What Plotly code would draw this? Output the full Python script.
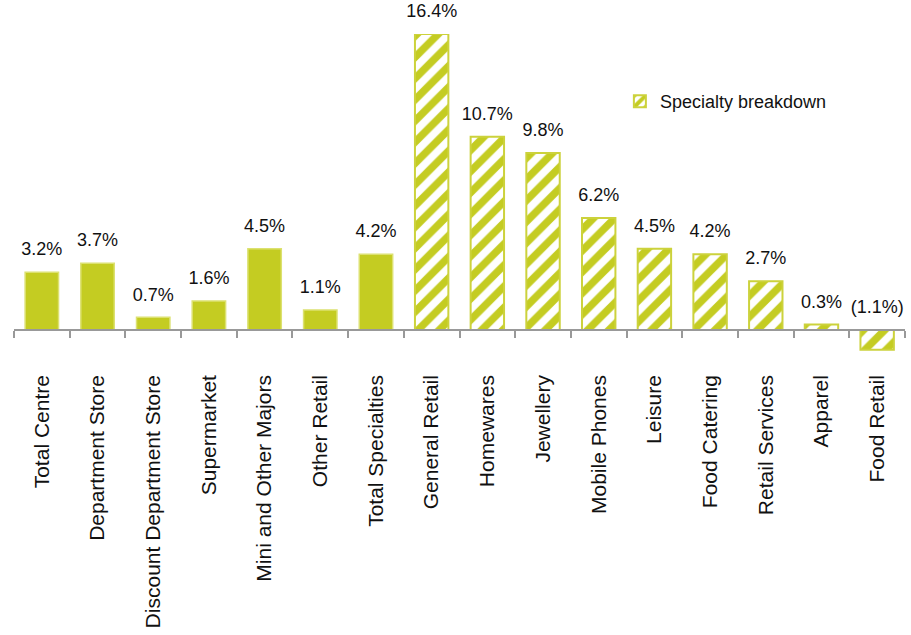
import plotly.graph_objects as go

# ---- data ----
categories = ["Total Centre", "Department Store", "Discount Department Store",
              "Supermarket", "Mini and Other Majors", "Other Retail",
              "Total Specialties", "General Retail", "Homewares", "Jewellery",
              "Mobile Phones", "Leisure", "Food Catering", "Retail Services",
              "Apparel", "Food Retail"]
values = [3.2, 3.7, 0.7, 1.6, 4.5, 1.1, 4.2, 16.4, 10.7, 9.8, 6.2, 4.5, 4.2,
          2.7, 0.3, -1.1]
n_solid = 7  # first categories are solid; the rest are the specialty breakdown
legend_name = "Specialty breakdown"


def fmt(v):
    return f"({abs(v):.1f}%)" if v < 0 else f"{v:.1f}%"


labels = [fmt(v) for v in values]

GREEN = "#c4cc22"
FONT = "Liberation Sans, Arial, sans-serif"

ymin, ymax = -1.5, 16.4

fig = go.Figure()
fig.add_trace(go.Bar(
    x=categories[:n_solid], y=values[:n_solid],
    marker=dict(color=GREEN, line=dict(color="#dce170", width=1.5)),
    showlegend=False, hoverinfo="x+y",
))
fig.add_trace(go.Bar(
    x=categories[n_solid:], y=values[n_solid:], name=legend_name,
    marker=dict(color="white",
                line=dict(color="#ccd23c", width=2),
                pattern=dict(shape="/", fgcolor=GREEN, bgcolor="white",
                             size=15, solidity=0.5, fgopacity=1,
                             fillmode="replace")),
    showlegend=True,
))
fig.add_trace(go.Scatter(
    x=categories, y=[max(v, 0) for v in values], text=labels,
    mode="markers+text", textposition="top center",
    marker=dict(size=18, color="rgba(0,0,0,0)"),
    textfont=dict(family=FONT, size=18, color="#111111"),
    showlegend=False, hoverinfo="skip", cliponaxis=False,
))

fig.update_layout(
    width=911, height=635,
    margin=dict(l=14, r=6, t=34, b=278, autoexpand=False),
    plot_bgcolor="white", paper_bgcolor="white",
    bargap=0.4, barmode="overlay",
    font=dict(family=FONT, size=18, color="#111111"),
    legend=dict(x=0.68, y=0.848, xanchor="left", yanchor="top",
                font=dict(family=FONT, size=18, color="#111111"),
                bgcolor="rgba(0,0,0,0)"),
)
fig.update_xaxes(
    type="category", categoryorder="array", categoryarray=categories,
    range=[-0.5, len(categories) - 0.5], autorange=False,
    anchor="free", position=(0 - ymin) / (ymax - ymin), automargin=False,
    showline=True, linecolor="#999999", linewidth=1.5,
    ticks="outside", tickson="boundaries", ticklen=7, tickcolor="#999999",
    tickwidth=1.5, tickangle=-90, ticklabelstandoff=36,
    tickfont=dict(family=FONT, size=21, color="#111111"),
    showgrid=False, zeroline=False,
)
fig.update_yaxes(range=[ymin, ymax], visible=False, showgrid=False,
                 zeroline=False, automargin=False)

fig.write_html("out.html")
